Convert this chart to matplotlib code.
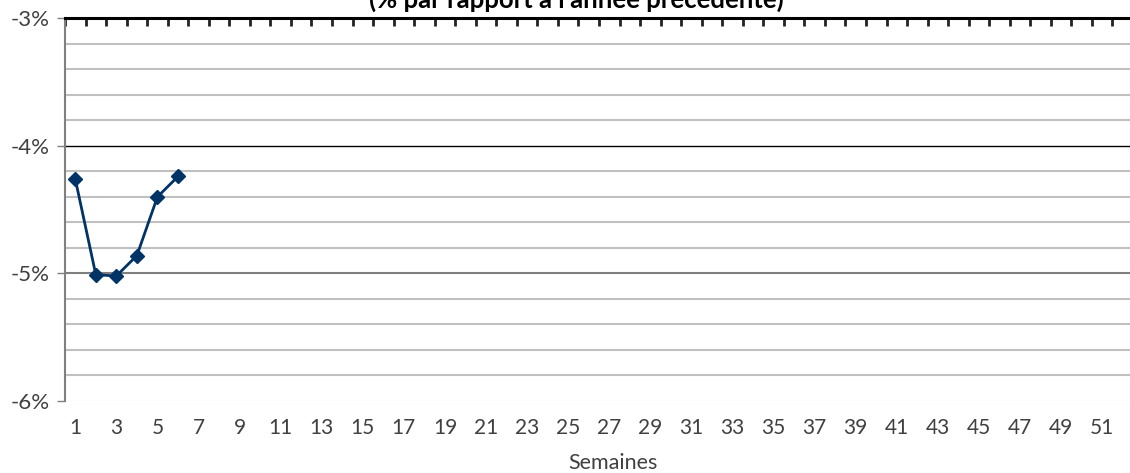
import numpy as np
import matplotlib.pyplot as plt

plt.rcParams['font.family'] = ['Lato', 'DejaVu Sans']

# données hebdomadaires (% par rapport à l'année précédente)
semaines = [1, 2, 3, 4, 5, 6]
variation = [-4.26, -5.01, -5.02, -4.86, -4.40, -4.24]
etiquettes_x = list(range(1, 52, 2))
niveaux_y = [-6, -5, -4, -3]
titre = "(% par rapport à l'année précédente)"
axe_x = "Semaines"

fig = plt.figure(figsize=(11.3, 4.73), dpi=100)
ax = fig.add_axes([65 / 1130, 72 / 473, 1068 / 1130, 382.7 / 473])

ax.set_xlim(0.5, 52.5)
ax.set_ylim(-6, -3)

# grille secondaire
for y in np.arange(-6, -3, 0.2):
    if round(y, 1) not in (-6.0, -5.0, -4.0, -3.0):
        ax.axhline(y, color='#c0c0c0', lw=1.5, zorder=1)
ax.axhline(-4, color='black', lw=1.0, zorder=1)
ax.axhline(-5, color='#7f7f7f', lw=1.5, zorder=1)
ax.axhline(-6, color='#f2f2f2', lw=1.0, zorder=1)

ax.plot(semaines, variation, color='#003366', lw=2, marker='D', ms=7.5, zorder=3)

for s in ['right', 'bottom']:
    ax.spines[s].set_visible(False)
ax.spines['left'].set_color('#808080')
ax.spines['left'].set_linewidth(1.5)
ax.spines['top'].set_color('black')
ax.spines['top'].set_linewidth(2.2)

ax.set_xticks(etiquettes_x)
ax.set_xticks(np.arange(0.5, 53, 1), minor=True)
ax.tick_params(axis='x', which='major', length=0, labelsize=15, labelcolor='#404040', pad=12)
ax.tick_params(axis='x', which='minor', bottom=False, top=True, direction='in', length=6, width=2, color='#222222')

ax.set_yticks(niveaux_y)
ax.set_yticklabels([f"{v}%" for v in niveaux_y])
ax.tick_params(axis='y', which='major', length=6, width=1, color='#808080', labelsize=16, labelcolor='#404040', pad=5)

ax.set_xlabel(axe_x, fontsize=15.5, color='#404040', va='center')
ax.xaxis.set_label_coords((613 - 65) / 1068, -(463 - 401) / 382.7)

fig.text(576 / 1130, (473 - 8) / 473, titre, ha='center', va='baseline', fontsize=18.5, fontweight='bold', color='black')

fig.savefig('out.png', dpi=100)
